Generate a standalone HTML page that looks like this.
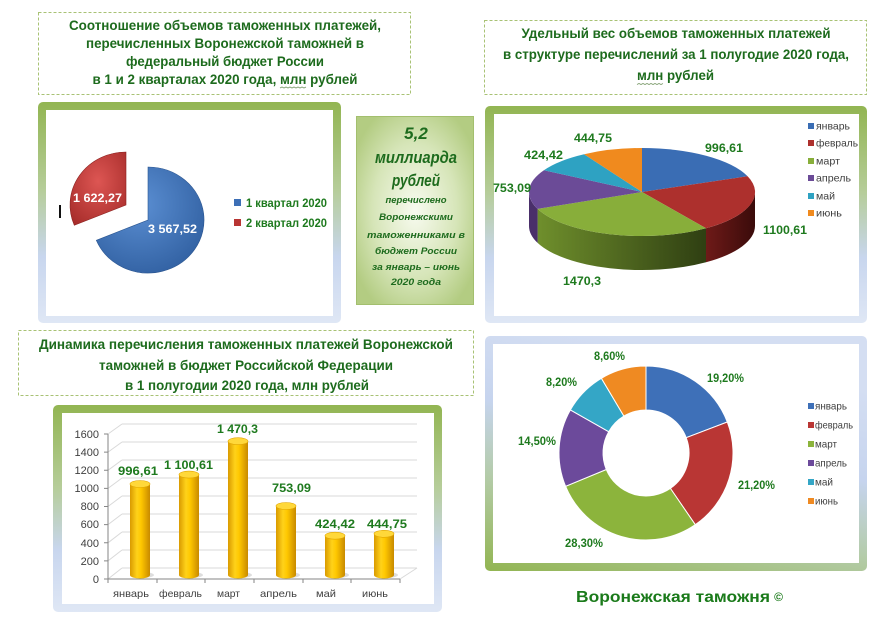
<!DOCTYPE html>
<html><head><meta charset="utf-8"><style>
html,body{margin:0;padding:0;background:#fff;}
svg{display:block;font-family:"Liberation Sans","Noto Sans CJK SC",sans-serif;}
.t{font-weight:bold;font-size:14px;fill:#1d6b1d;}
.d{font-weight:bold;font-size:12px;fill:#1e7a1e;}
.lg{font-size:10.5px;fill:#404040;}
.ax{font-size:11px;fill:#404040;}
</style></head><body>
<svg width="886" height="625" viewBox="0 0 886 625" xmlns="http://www.w3.org/2000/svg">
<defs>
<linearGradient id="fv" x1="0" y1="0" x2="0" y2="1">
<stop offset="0" stop-color="#92b552"/><stop offset="0.4" stop-color="#b6cd9a"/><stop offset="0.7" stop-color="#c8d6ee"/><stop offset="1" stop-color="#dfe7f5"/></linearGradient>
<linearGradient id="fd" x1="0" y1="1" x2="0.35" y2="0">
<stop offset="0" stop-color="#92b552"/><stop offset="0.35" stop-color="#b3cba6"/><stop offset="0.65" stop-color="#c6d4ee"/><stop offset="1" stop-color="#d4def2"/></linearGradient>
<radialGradient id="gb" cx="0.5" cy="0.5" r="0.6"><stop offset="0" stop-color="#f8fbf0"/><stop offset="0.6" stop-color="#d6e5b8"/><stop offset="1" stop-color="#b3cc82"/></radialGradient>
<linearGradient id="cyl" x1="0" y1="0" x2="1" y2="0">
<stop offset="0" stop-color="#d99a00"/><stop offset="0.35" stop-color="#ffd21a"/><stop offset="0.55" stop-color="#ffc800"/><stop offset="1" stop-color="#c88a00"/></linearGradient>
<radialGradient id="pB" cx="0.4" cy="0.35" r="0.75"><stop offset="0" stop-color="#5b8fd3"/><stop offset="1" stop-color="#2f5e9f"/></radialGradient>
<radialGradient id="pR" cx="0.5" cy="0.4" r="0.75"><stop offset="0" stop-color="#dd5653"/><stop offset="1" stop-color="#a42a28"/></radialGradient>
<linearGradient id="sR" x1="0" y1="0" x2="1" y2="0"><stop offset="0" stop-color="#6e1a18"/><stop offset="1" stop-color="#3a0b0a"/></linearGradient>
<linearGradient id="sG" x1="0" y1="0" x2="1" y2="0"><stop offset="0" stop-color="#6f8f2c"/><stop offset="1" stop-color="#2f3f12"/></linearGradient>
</defs>
<rect width="886" height="625" fill="#fff"/>

<rect x="38.5" y="12.5" width="372" height="82" fill="none" stroke="#a8c274" stroke-dasharray="3,2"/>
<rect x="484.5" y="20.5" width="382" height="74" fill="none" stroke="#a8c274" stroke-dasharray="3,2"/>
<rect x="18.5" y="330.5" width="455" height="65" fill="none" stroke="#a8c274" stroke-dasharray="3,2"/>

<text class="t" x="225" y="30" text-anchor="middle" textLength="312" lengthAdjust="spacingAndGlyphs">Соотношение объемов таможенных платежей,</text>
<text class="t" x="225" y="48" text-anchor="middle" textLength="278" lengthAdjust="spacingAndGlyphs">перечисленных Воронежской таможней в</text>
<text class="t" x="225" y="66" text-anchor="middle" textLength="198" lengthAdjust="spacingAndGlyphs">федеральный бюджет России</text>
<text class="t" x="225" y="84" text-anchor="middle" textLength="265" lengthAdjust="spacingAndGlyphs">в  1 и 2 кварталах 2020 года, млн рублей</text>
<path d="M280 88 l2 -1 l2 1 l2 -1 l2 1 l2 -1 l2 1 l2 -1 l2 1 l2 -1 l2 1 l2 -1 l2 1 l2 -1" fill="none" stroke="#7a9a6a" stroke-width="0.8"/>

<text class="t" x="676" y="38" text-anchor="middle" textLength="309" lengthAdjust="spacingAndGlyphs">Удельный вес объемов таможенных платежей</text>
<text class="t" x="676" y="59" text-anchor="middle" textLength="346" lengthAdjust="spacingAndGlyphs">в структуре перечислений за 1 полугодие 2020 года,</text>
<text class="t" x="675.5" y="80" text-anchor="middle" textLength="77" lengthAdjust="spacingAndGlyphs">млн рублей</text>
<path d="M637 84.5 l2 -1 l2 1 l2 -1 l2 1 l2 -1 l2 1 l2 -1 l2 1 l2 -1 l2 1 l2 -1 l2 1 l2 -1" fill="none" stroke="#7a9a6a" stroke-width="0.8"/>

<text class="t" x="246" y="349" text-anchor="middle" textLength="414" lengthAdjust="spacingAndGlyphs">Динамика перечисления таможенных платежей Воронежской</text>
<text class="t" x="246" y="370" text-anchor="middle" textLength="294" lengthAdjust="spacingAndGlyphs">таможней в бюджет Российской Федерации</text>
<text class="t" x="247" y="390" text-anchor="middle" textLength="244" lengthAdjust="spacingAndGlyphs">в 1 полугодии 2020 года, млн рублей</text>

<rect x="38" y="102" width="303" height="221" rx="5" fill="url(#fv)"/>
<rect x="46" y="110" width="287" height="206" fill="#fff"/>
<path d="M148 220 L148 167 A56 53 0 1 1 96.3 240.3 Z" fill="url(#pB)" stroke="#2a5590" stroke-width="0.6"/>
<path d="M126 205 L74.3 225.3 A56 53 0 0 1 126 152 Z" fill="url(#pR)" stroke="#8a2220" stroke-width="0.6"/>
<text x="97.5" y="202" text-anchor="middle" textLength="49" lengthAdjust="spacingAndGlyphs" style="font-weight:bold;font-size:12px;fill:#fff">1 622,27</text>
<text x="172.5" y="233" text-anchor="middle" textLength="49" lengthAdjust="spacingAndGlyphs" style="font-weight:bold;font-size:12px;fill:#fff">3 567,52</text>
<rect x="59" y="205" width="2" height="13" fill="#111"/>
<rect x="234" y="199" width="7" height="7" fill="#3d6fb6"/>
<rect x="234" y="219" width="7" height="7" fill="#b83533"/>
<text x="246" y="207" textLength="81" lengthAdjust="spacingAndGlyphs" style="font-weight:bold;font-size:11.5px;fill:#1e7a1e">1 квартал 2020</text>
<text x="246" y="227" textLength="81" lengthAdjust="spacingAndGlyphs" style="font-weight:bold;font-size:11.5px;fill:#1e7a1e">2 квартал 2020</text>

<rect x="356.5" y="116.5" width="117" height="188" fill="url(#gb)" stroke="#a3bf6e"/>
<g style="font-weight:bold;font-style:italic;fill:#1d6b1d" text-anchor="middle">
<text x="416" y="139" style="font-size:17px">5,2</text>
<text x="416" y="163" style="font-size:17px" textLength="82" lengthAdjust="spacingAndGlyphs">миллиарда</text>
<text x="416" y="186" style="font-size:17px" textLength="48" lengthAdjust="spacingAndGlyphs">рублей</text>
<text x="416" y="203" style="font-size:9.5px" textLength="61" lengthAdjust="spacingAndGlyphs">перечислено</text>
<text x="416" y="220" style="font-size:9.5px" textLength="74" lengthAdjust="spacingAndGlyphs">Воронежскими</text>
<text x="416" y="238" style="font-size:9.5px" textLength="98" lengthAdjust="spacingAndGlyphs">таможенниками  в</text>
<text x="416" y="254" style="font-size:9.5px" textLength="82" lengthAdjust="spacingAndGlyphs">бюджет России</text>
<text x="416" y="270" style="font-size:9.5px" textLength="88" lengthAdjust="spacingAndGlyphs">за январь – июнь</text>
<text x="416" y="285" style="font-size:9.5px" textLength="50" lengthAdjust="spacingAndGlyphs">2020 года</text>
</g>

<rect x="485" y="106" width="382" height="217" rx="5" fill="url(#fv)"/>
<rect x="494" y="114" width="365" height="202" fill="#fff"/>
<path d="M755 192 A113 44 0 0 1 706 228.3 L706 262.3 A113 44 0 0 0 755 226 Z" fill="url(#sR)"/>
<path d="M706 228.3 A113 44 0 0 1 537.6 208.9 L537.6 242.9 A113 44 0 0 0 706 262.3 Z" fill="url(#sG)"/>
<path d="M537.6 208.9 A113 44 0 0 1 529 192 L529 226 A113 44 0 0 0 537.6 242.9 Z" fill="#4a2f6a"/>
<path d="M642 192 L642 148 A113 44 0 0 1 747.6 176.3 Z" fill="#3a6db4"/>
<path d="M642 192 L747.6 176.3 A113 44 0 0 1 706 228.3 Z" fill="#ad302d"/>
<path d="M642 192 L706 228.3 A113 44 0 0 1 537.6 208.9 Z" fill="#88ae3a"/>
<path d="M642 192 L537.6 208.9 A113 44 0 0 1 543.9 170.2 Z" fill="#6b4b97"/>
<path d="M642 192 L543.9 170.2 A113 44 0 0 1 584.1 154.2 Z" fill="#2ea2c2"/>
<path d="M642 192 L584.1 154.2 A113 44 0 0 1 642 148 Z" fill="#f08a1e"/>
<text class="d" x="724" y="152" text-anchor="middle" textLength="38" lengthAdjust="spacingAndGlyphs">996,61</text>
<text class="d" x="785" y="234" text-anchor="middle" textLength="44" lengthAdjust="spacingAndGlyphs">1100,61</text>
<text class="d" x="582" y="285" text-anchor="middle" textLength="38" lengthAdjust="spacingAndGlyphs">1470,3</text>
<text class="d" x="512" y="192" text-anchor="middle" textLength="38" lengthAdjust="spacingAndGlyphs">753,09</text>
<text class="d" x="543.5" y="159" text-anchor="middle" textLength="39" lengthAdjust="spacingAndGlyphs">424,42</text>
<text class="d" x="593" y="142" text-anchor="middle" textLength="38" lengthAdjust="spacingAndGlyphs">444,75</text>
<rect x="808" y="123" width="6" height="6" fill="#3a6db4"/>
<rect x="808" y="140" width="6" height="6" fill="#ad302d"/>
<rect x="808" y="158" width="6" height="6" fill="#88ae3a"/>
<rect x="808" y="175" width="6" height="6" fill="#6b4b97"/>
<rect x="808" y="193" width="6" height="6" fill="#2ea2c2"/>
<rect x="808" y="210" width="6" height="6" fill="#f08a1e"/>
<text class="lg" x="816" y="129.5" textLength="34" lengthAdjust="spacingAndGlyphs">январь</text>
<text class="lg" x="816" y="146.5" textLength="42" lengthAdjust="spacingAndGlyphs">февраль</text>
<text class="lg" x="816" y="164.5" textLength="24" lengthAdjust="spacingAndGlyphs">март</text>
<text class="lg" x="816" y="181.5" textLength="35" lengthAdjust="spacingAndGlyphs">апрель</text>
<text class="lg" x="816" y="199.5" textLength="19" lengthAdjust="spacingAndGlyphs">май</text>
<text class="lg" x="816" y="216.5" textLength="26" lengthAdjust="spacingAndGlyphs">июнь</text>

<rect x="53" y="405" width="389" height="207" rx="5" fill="url(#fv)"/>
<rect x="62" y="413" width="372" height="191" fill="#fff"/>
<g stroke="#d9d9d9" stroke-width="1" fill="none">
<path d="M122 424H417 M122 442H417 M122 460H417 M122 478H417 M122 496H417 M122 514H417 M122 532H417 M122 550H417 M122 568H417"/>
<path d="M108 434L122 424 M108 452.1L122 442 M108 470.3L122 460 M108 488.4L122 478 M108 506.5L122 496 M108 524.6L122 514 M108 542.8L122 532 M108 560.9L122 550 M108 579L122 568"/>
<path d="M400 579L417 568"/>
</g>
<g stroke="#868686" stroke-width="1" fill="none">
<path d="M108 434V579H400"/>
<path d="M104 434H108 M104 452.1H108 M104 470.3H108 M104 488.4H108 M104 506.5H108 M104 524.6H108 M104 542.8H108 M104 560.9H108 M104 579H108"/>
<path d="M108 579V583 M157 579V583 M205 579V583 M254 579V583 M303 579V583 M351 579V583 M400 579V583"/>
</g>
<g class="ax" text-anchor="end">
<text x="99" y="438">1600</text><text x="99" y="456">1400</text><text x="99" y="474">1200</text>
<text x="99" y="492">1000</text><text x="99" y="510">800</text><text x="99" y="528">600</text>
<text x="99" y="547">400</text><text x="99" y="565">200</text><text x="99" y="583">0</text>
</g>
<g>
<ellipse cx="142" cy="575" rx="12" ry="3" fill="#bbb" opacity="0.5"/>
<path d="M130 484 V575 A10 3.5 0 0 0 150 575 V484 Z" fill="url(#cyl)"/><ellipse cx="140" cy="484" rx="10" ry="3.5" fill="#ffd83a" stroke="#e0a400" stroke-width="0.6"/>
<ellipse cx="191" cy="575" rx="12" ry="3" fill="#bbb" opacity="0.5"/>
<path d="M179 474.6 V575 A10 3.5 0 0 0 199 575 V474.6 Z" fill="url(#cyl)"/><ellipse cx="189" cy="474.6" rx="10" ry="3.5" fill="#ffd83a" stroke="#e0a400" stroke-width="0.6"/>
<ellipse cx="240" cy="575" rx="12" ry="3" fill="#bbb" opacity="0.5"/>
<path d="M228 441.2 V575 A10 3.5 0 0 0 248 575 V441.2 Z" fill="url(#cyl)"/><ellipse cx="238" cy="441.2" rx="10" ry="3.5" fill="#ffd83a" stroke="#e0a400" stroke-width="0.6"/>
<ellipse cx="288" cy="575" rx="12" ry="3" fill="#bbb" opacity="0.5"/>
<path d="M276 506 V575 A10 3.5 0 0 0 296 575 V506 Z" fill="url(#cyl)"/><ellipse cx="286" cy="506" rx="10" ry="3.5" fill="#ffd83a" stroke="#e0a400" stroke-width="0.6"/>
<ellipse cx="337" cy="575" rx="12" ry="3" fill="#bbb" opacity="0.5"/>
<path d="M325 535.7 V575 A10 3.5 0 0 0 345 575 V535.7 Z" fill="url(#cyl)"/><ellipse cx="335" cy="535.7" rx="10" ry="3.5" fill="#ffd83a" stroke="#e0a400" stroke-width="0.6"/>
<ellipse cx="386" cy="575" rx="12" ry="3" fill="#bbb" opacity="0.5"/>
<path d="M374 533.8 V575 A10 3.5 0 0 0 394 575 V533.8 Z" fill="url(#cyl)"/><ellipse cx="384" cy="533.8" rx="10" ry="3.5" fill="#ffd83a" stroke="#e0a400" stroke-width="0.6"/>
</g>
<text class="d" x="138" y="475" text-anchor="middle" textLength="40" lengthAdjust="spacingAndGlyphs">996,61</text>
<text class="d" x="188.5" y="469" text-anchor="middle" textLength="49" lengthAdjust="spacingAndGlyphs">1 100,61</text>
<text class="d" x="237.5" y="433" text-anchor="middle" textLength="41" lengthAdjust="spacingAndGlyphs">1 470,3</text>
<text class="d" x="291.5" y="492" text-anchor="middle" textLength="39" lengthAdjust="spacingAndGlyphs">753,09</text>
<text class="d" x="335" y="528" text-anchor="middle" textLength="40" lengthAdjust="spacingAndGlyphs">424,42</text>
<text class="d" x="387" y="528" text-anchor="middle" textLength="40" lengthAdjust="spacingAndGlyphs">444,75</text>
<g class="lg" text-anchor="middle">
<text x="131" y="597" textLength="36" lengthAdjust="spacingAndGlyphs">январь</text>
<text x="180.5" y="597" textLength="43" lengthAdjust="spacingAndGlyphs">февраль</text>
<text x="228.5" y="597" textLength="23" lengthAdjust="spacingAndGlyphs">март</text>
<text x="278.5" y="597" textLength="37" lengthAdjust="spacingAndGlyphs">апрель</text>
<text x="326" y="597" textLength="20" lengthAdjust="spacingAndGlyphs">май</text>
<text x="375" y="597" textLength="26" lengthAdjust="spacingAndGlyphs">июнь</text>
</g>

<rect x="485" y="336" width="382" height="235" rx="5" fill="url(#fd)"/>
<rect x="493" y="344" width="366" height="219" fill="#fff"/>
<g stroke="#fff" stroke-width="1">
<path d="M646 366 A87 87 0 0 1 727.3 422 L686.2 437.7 A43 43 0 0 0 646 410 Z" fill="#3e70b8"/>
<path d="M727.3 422 A87 87 0 0 1 695.3 524.7 L670.4 488.4 A43 43 0 0 0 686.2 437.7 Z" fill="#b93634"/>
<path d="M695.3 524.7 A87 87 0 0 1 565.6 486.3 L606.3 469.5 A43 43 0 0 0 670.4 488.4 Z" fill="#8cb43c"/>
<path d="M565.6 486.3 A87 87 0 0 1 570.4 409.9 L608.7 431.7 A43 43 0 0 0 606.3 469.5 Z" fill="#6c4a9b"/>
<path d="M570.4 409.9 A87 87 0 0 1 601.4 378.3 L623.9 416.1 A43 43 0 0 0 608.7 431.7 Z" fill="#34a6c6"/>
<path d="M601.4 378.3 A87 87 0 0 1 646 366 L646 410 A43 43 0 0 0 623.9 416.1 Z" fill="#ef8a22"/>
</g>
<g style="font-weight:bold;font-size:11.5px;fill:#1e7a1e" text-anchor="middle">
<text x="609.5" y="360" textLength="31" lengthAdjust="spacingAndGlyphs">8,60%</text>
<text x="725.5" y="382" textLength="37" lengthAdjust="spacingAndGlyphs">19,20%</text>
<text x="561.5" y="386" textLength="31" lengthAdjust="spacingAndGlyphs">8,20%</text>
<text x="537" y="445" textLength="38" lengthAdjust="spacingAndGlyphs">14,50%</text>
<text x="756.5" y="489" textLength="37" lengthAdjust="spacingAndGlyphs">21,20%</text>
<text x="584" y="547" textLength="38" lengthAdjust="spacingAndGlyphs">28,30%</text>
</g>
<rect x="808" y="403" width="6" height="6" fill="#3e70b8"/>
<rect x="808" y="422" width="6" height="6" fill="#b93634"/>
<rect x="808" y="441" width="6" height="6" fill="#8cb43c"/>
<rect x="808" y="460" width="6" height="6" fill="#6c4a9b"/>
<rect x="808" y="479" width="6" height="6" fill="#34a6c6"/>
<rect x="808" y="498" width="6" height="6" fill="#ef8a22"/>
<text class="lg" x="815" y="409.5" textLength="32" lengthAdjust="spacingAndGlyphs">январь</text>
<text class="lg" x="815" y="428.5" textLength="38" lengthAdjust="spacingAndGlyphs">февраль</text>
<text class="lg" x="815" y="447.5" textLength="22" lengthAdjust="spacingAndGlyphs">март</text>
<text class="lg" x="815" y="466.5" textLength="32" lengthAdjust="spacingAndGlyphs">апрель</text>
<text class="lg" x="815" y="485.5" textLength="18" lengthAdjust="spacingAndGlyphs">май</text>
<text class="lg" x="815" y="504.5" textLength="23" lengthAdjust="spacingAndGlyphs">июнь</text>

<text x="576" y="602" textLength="194" lengthAdjust="spacingAndGlyphs" style="font-weight:bold;font-size:16px;fill:#1a7a1a">Воронежская  таможня</text>
<text x="778.5" y="601" text-anchor="middle" style="font-weight:bold;font-size:12px;fill:#1a7a1a">©</text>
</svg>
</body></html>
